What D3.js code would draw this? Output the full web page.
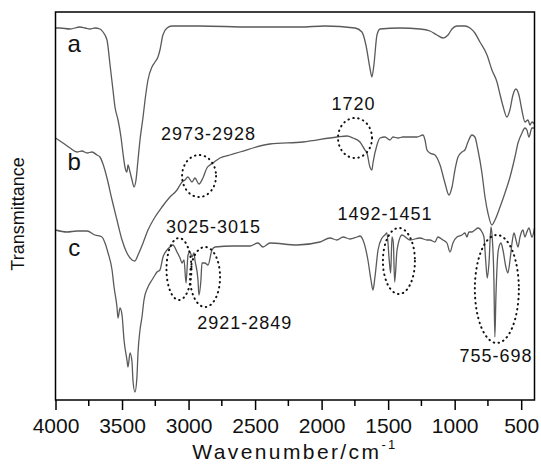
<!DOCTYPE html>
<html>
<head>
<meta charset="utf-8">
<script src="https://cdn.jsdelivr.net/npm/d3@7"></script>
<style>
  body { margin: 0; background: #fff; }
  svg { display: block; }
  text { font-family: "Liberation Sans", Arial, sans-serif; fill: #111; }
</style>
</head>
<body>
<div id="chart"></div>
<script>
// wavenumber (cm-1) / transmittance (arb. units, offset per sample)
const specA = [
  [4000,372],[3966,372],[3891,371],[3816,373],[3778,372],[3741,371],[3703,372],[3666,371],
  [3643,368],[3613,360],[3590,335],[3568,310],[3553,293],[3530,280],[3508,263],[3493,247],
  [3478,233],[3463,228],[3455,235],[3440,228],[3425,220],[3410,213],[3395,220],[3380,240],
  [3365,260],[3342,283],[3327,300],[3305,320],[3275,333],[3252,338],[3230,343],[3215,350],
  [3193,365],[3162,372],[3125,374],[2915,374],[2538,373],[2163,373],[1975,374],[1749,372],
  [1697,368],[1667,355],[1637,332],[1622,323],[1607,335],[1584,365],[1561,371],[1411,372],
  [1261,371],[1186,369],[1133,365],[1088,362],[1050,365],[1020,371],[983,374],[923,374],
  [885,372],[848,367],[810,358],[757,345],[720,330],[682,318],[660,306],[637,294],
  [607,283],[585,290],[562,305],[540,311],[517,305],[495,290],[472,278],[449,280],
  [434,275],[419,278],[400,276]
];
const specB = [
  [4000,262],[3944,257],[3891,252],[3838,248],[3801,249],[3763,247],[3726,248],[3688,245],
  [3666,243],[3643,236],[3613,222],[3575,200],[3538,180],[3500,160],[3463,147],[3425,140],
  [3403,139],[3380,145],[3342,157],[3305,170],[3252,183],[3200,193],[3140,203],[3087,210],
  [3049,218],[3027,220],[3005,223],[2974,218],[2952,222],[2922,216],[2892,222],[2862,232],
  [2839,235],[2817,237],[2764,242],[2689,245],[2614,248],[2389,256],[2140,258],[1885,263],
  [1809,264],[1764,262],[1712,258],[1674,250],[1659,247],[1637,233],[1622,230],[1614,237],
  [1584,255],[1561,262],[1524,263],[1486,260],[1464,263],[1426,262],[1389,263],[1336,263],
  [1283,263],[1238,265],[1223,260],[1208,250],[1186,247],[1148,245],[1110,235],[1073,217],
  [1043,205],[1020,213],[998,230],[975,243],[945,248],[923,250],[900,258],[870,265],
  [848,263],[825,250],[795,227],[772,203],[750,187],[720,175],[697,180],[659,193],
  [622,207],[584,223],[547,243],[524,257],[494,267],[472,272],[457,270],[442,263],
  [419,272],[400,272]
];
const specC = [
  [4000,170],[3914,168],[3838,169],[3763,169],[3703,165],[3651,163],[3628,157],[3605,147],
  [3575,130],[3560,113],[3538,93],[3530,82],[3515,92],[3500,85],[3485,60],[3463,40],
  [3455,33],[3440,47],[3425,38],[3418,20],[3403,8],[3388,23],[3380,47],[3365,70],
  [3350,83],[3335,100],[3305,113],[3275,120],[3252,125],[3237,128],[3215,130],[3192,143],
  [3162,150],[3140,153],[3117,155],[3087,148],[3064,142],[3049,137],[3034,140],[3019,117],
  [3004,145],[2989,148],[2974,143],[2959,147],[2952,140],[2929,120],[2922,105],[2907,120],
  [2899,137],[2877,137],[2854,135],[2824,150],[2801,153],[2666,154],[2538,154],[2478,157],
  [2441,153],[2388,157],[2185,155],[2013,158],[1937,162],[1885,160],[1839,163],[1787,161],
  [1734,163],[1712,164],[1689,160],[1652,140],[1629,120],[1614,110],[1599,123],[1576,150],
  [1546,162],[1524,165],[1509,167],[1492,140],[1481,127],[1471,163],[1461,157],[1451,118],
  [1433,150],[1396,165],[1336,160],[1261,162],[1208,160],[1186,160],[1148,158],[1126,163],
  [1088,160],[1058,157],[1035,148],[1013,157],[983,163],[945,165],[923,167],[908,163],
  [893,168],[870,168],[848,170],[825,172],[795,168],[780,163],[767,140],[755,122],
  [742,137],[727,173],[718,163],[705,120],[698,63],[690,103],[672,150],[652,157],
  [637,150],[615,133],[600,127],[584,140],[569,157],[554,167],[539,160],[524,153],
  [509,163],[487,170],[472,163],[457,168],[442,172],[419,163],[400,172]
];
const series = [
  {label: "a", data: specA, labelAt: [3860, 348]},
  {label: "b", data: specB, labelAt: [3860, 230]},
  {label: "c", data: specC, labelAt: [3860, 144]}
];

const xTicks = [4000, 3500, 3000, 2500, 2000, 1500, 1000, 500];
const xMinor = [3750, 3250, 2750, 2250, 1750, 1250, 750];

// peak marks: ellipse centre (wavenumber, value) + radii, and text
const circles = [
  {wn: 2921, v: 224, rx: 17, ry: 21},
  {wn: 1749, v: 262, rx: 17, ry: 20},
  {wn: 3072, v: 131, rx: 12.5, ry: 31},
  {wn: 2876, v: 123, rx: 15, ry: 30},
  {wn: 1419, v: 139, rx: 16, ry: 33},
  {wn: 683, v: 111, rx: 22, ry: 54}
];
const notes = [
  {text: "2973-2928", wn: 2850, v: 260},
  {text: "1720", wn: 1761, v: 290},
  {text: "3025-3015", wn: 2813, v: 167},
  {text: "1492-1451", wn: 1524, v: 180},
  {text: "2921-2849", wn: 2577, v: 71},
  {text: "755-698", wn: 690, v: 38}
];

const width = 541, height = 464;
const margin = {top: 12, right: 6.5, bottom: 64, left: 55.5};

const svg = d3.select("#chart").append("svg")
    .attr("width", width)
    .attr("height", height);

const x = d3.scaleLinear()
    .domain([4000, 400])
    .range([margin.left, width - margin.right]);
const y = d3.scaleLinear()
    .domain([0, 388])
    .range([height - margin.bottom, margin.top]);

const line = d3.line()
    .x(d => x(d[0]))
    .y(d => y(d[1]))
    .curve(d3.curveMonotoneX);

svg.selectAll("path.spec").data(series)
    .enter()
    .append("path")
    .attr("class", "spec")
    .attr("d", d => line(d.data))
    .attr("fill", "none")
    .attr("stroke", "#5a5a5a")
    .attr("stroke-width", 1.3)
    .attr("stroke-linejoin", "round");

svg.selectAll("text.lab").data(series)
    .enter()
    .append("text")
    .attr("class", "lab")
    .attr("x", d => x(d.labelAt[0]))
    .attr("y", d => y(d.labelAt[1]))
    .attr("text-anchor", "middle")
    .style("font-size", "24px")
    .text(d => d.label);

// dotted ellipses
svg.selectAll("ellipse").data(circles)
    .enter()
    .append("ellipse")
    .attr("cx", d => x(d.wn))
    .attr("cy", d => y(d.v))
    .attr("rx", d => d.rx)
    .attr("ry", d => d.ry)
    .attr("fill", "none")
    .attr("stroke", "#111")
    .attr("stroke-width", 2)
    .attr("stroke-linecap", "round")
    .attr("stroke-dasharray", "0.5,4.5");

svg.selectAll("text.note").data(notes)
    .enter()
    .append("text")
    .attr("class", "note")
    .attr("x", d => x(d.wn))
    .attr("y", d => y(d.v))
    .attr("text-anchor", "middle")
    .style("font-size", "18px")
    .style("letter-spacing", "1px")
    .text(d => d.text);

// frame
svg.append("rect")
    .attr("x", margin.left)
    .attr("y", margin.top)
    .attr("width", width - margin.left - margin.right)
    .attr("height", height - margin.top - margin.bottom)
    .attr("fill", "none")
    .attr("stroke", "#000")
    .attr("stroke-width", 1.5);

// x axis
const xAxis = svg.append("g")
    .attr("transform", "translate(0," + (height - margin.bottom) + ")")
    .call(d3.axisBottom(x).tickValues(xTicks).tickSize(10).tickPadding(8).tickFormat(d3.format("d")));
xAxis.select(".domain").remove();
xAxis.selectAll(".tick line").attr("stroke", "#000").attr("stroke-width", 1.5);
xAxis.selectAll(".tick text")
    .style("font-size", "21px")
    .style("font-family", "'Liberation Sans', Arial, sans-serif")
    .attr("fill", "#111");

svg.append("g")
    .attr("transform", "translate(0," + (height - margin.bottom) + ")")
    .selectAll("line").data(xMinor)
    .enter()
    .append("line")
    .attr("x1", d => x(d))
    .attr("x2", d => x(d))
    .attr("y1", 0)
    .attr("y2", 6)
    .attr("stroke", "#000")
    .attr("stroke-width", 1.5);

// axis titles
const xt = svg.append("text")
    .attr("x", x(2200))
    .attr("y", 459)
    .attr("text-anchor", "middle")
    .style("font-size", "21px")
    .style("letter-spacing", "2.4px");
xt.append("tspan").text("Wavenumber/cm");
xt.append("tspan")
    .attr("dy", -10)
    .style("font-size", "13px")
    .text("-1");

svg.append("text")
    .attr("transform", "translate(24,214) rotate(-90)")
    .attr("text-anchor", "middle")
    .style("font-size", "18px")
    .text("Transmittance");
</script>
</body>
</html>
